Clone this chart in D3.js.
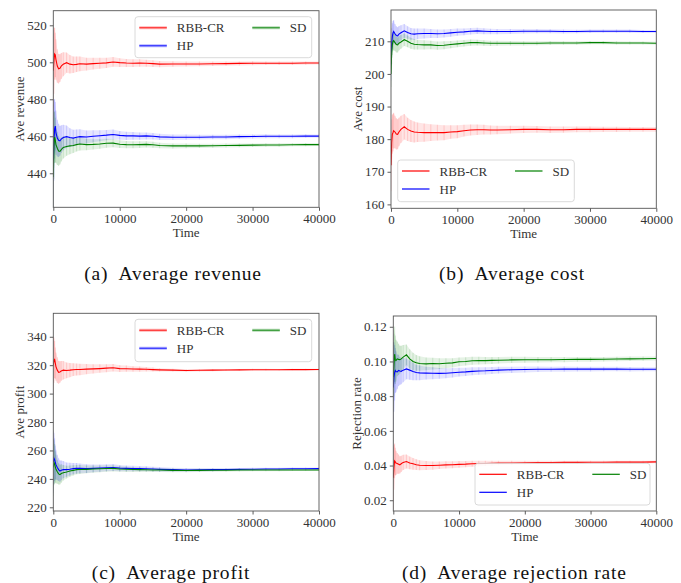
<!DOCTYPE html>
<html>
<head>
<meta charset="utf-8">
<script src="https://cdn.jsdelivr.net/npm/d3@7/dist/d3.min.js"></script>
<style>
  html, body { margin: 0; padding: 0; background: #fff; }
  svg { display: block; }
</style>
</head>
<body>
<svg id="chart" width="681" height="583" font-family="Liberation Serif, DejaVu Serif, serif"></svg>
<script>
// Sampling times shared by every series
const times = [0,100,200,300,400,600,800,1000,1200,1500,2000,2500,3000,3500,4000,5000,6000,7000,8000,9000,10000,11000,12000,13000,14000,15000,16000,18000,20000,22000,24000,26000,28000,30000,32000,34000,36000,38000,40000];

const seriesNames = ["RBB-CR", "HP", "SD"];
const xTicks = [0, 10000, 20000, 30000, 40000];

// (a) Average revenue
const revenueRBB = [495.5,501,504.5,504,501.5,498,496.5,496.8,498,499,499.8,499,498.7,498.9,499.2,499,499.3,499.5,499.7,500.2,499.8,499.6,499.5,499.6,499.5,499.3,499,499.1,499.1,499.1,499.2,499.3,499.4,499.5,499.5,499.5,499.5,499.6,499.6];
const revenueRBBErr = [20,18,14,12,11,9,8,7.5,7,6.5,5.5,5,4.5,4.2,4,3.5,3.2,3,2.8,2.6,2.4,2.2,2.1,2,1.9,1.8,1.7,1.5,1.4,1.3,1.2,1.15,1.1,1.05,1,0.95,0.9,0.9,0.85];
const revenueHP = [447,458,464,465.5,462,459,457.8,457.5,458.5,459.3,459.8,459.3,459,459.5,459.8,459.6,460,460.3,460.6,461,460.5,460.2,460.2,460.1,460.2,460,459.7,459.5,459.5,459.5,459.6,459.6,459.8,459.9,460,460,460,460.1,460.1];
const revenueHPErr = [30,22,16,13,12,10,9,8,7.5,7,6,5,4.5,4.2,4,3.5,3.2,3,2.8,2.6,2.4,2.2,2.1,2,1.9,1.8,1.7,1.5,1.4,1.3,1.25,1.2,1.15,1.1,1.05,1,1,0.95,0.9];
const revenueSD = [438,455,459.5,458,455.5,453.5,452,451.8,452.8,454,454.5,454.8,455,455.5,455.8,455.5,455.6,455.8,456.2,456.3,455.7,455.5,455.4,455.5,455.6,455.4,455,454.8,454.8,454.8,454.9,455,455.1,455.2,455.3,455.3,455.4,455.5,455.5];
const revenueSDErr = [25,18,14,12,10,9,8,7,6.5,6,5,4.5,4,3.7,3.5,3.1,2.8,2.6,2.4,2.2,2.1,2,1.9,1.8,1.7,1.6,1.5,1.35,1.25,1.15,1.1,1.05,1,0.95,0.9,0.9,0.85,0.85,0.8];
const revenueTicks = [440, 460, 480, 500, 520];

// (b) Average cost
const costRBB = [172,179,181.5,182,182.6,182.2,181.6,181.5,182.2,183,183.8,183,182.5,182.2,182.1,182,182,182,182,182.2,182.3,182.6,182.8,182.9,182.9,182.8,182.8,182.9,183,183,182.9,182.9,183,183,183,183,183,183,183];
const costRBBErr = [8,7,6,5.8,5.5,5,4.8,4.6,4.4,4.2,3.9,3.6,3.4,3.2,3,2.8,2.6,2.4,2.3,2.1,2,1.8,1.7,1.6,1.5,1.4,1.3,1.2,1.1,1,1,0.95,0.9,0.85,0.8,0.8,0.75,0.75,0.7];
const costHP = [203,209.5,211.5,212.5,213,212.3,211.8,211.7,212.2,212.6,213.2,212.7,212.3,212.2,212.3,212.4,212.4,212.3,212.4,212.6,212.8,212.9,213.1,213.2,213.1,213,213,213,213.1,213.1,213.1,213,213,213.1,213.1,213.1,213.1,213,213];
const costHPErr = [5,4.5,4,3.7,3.5,3,2.8,2.6,2.5,2.3,2.1,1.9,1.8,1.7,1.6,1.5,1.4,1.3,1.25,1.2,1.1,1.05,1,0.95,0.9,0.85,0.8,0.75,0.7,0.65,0.6,0.6,0.55,0.55,0.5,0.5,0.5,0.45,0.45];
const costSD = [200,206.5,209,210,210.2,209.6,209,208.9,209.4,209.8,210.5,210,209.4,209.1,209,208.9,208.9,208.7,208.8,209,209.2,209.4,209.6,209.6,209.5,209.4,209.4,209.4,209.4,209.4,209.5,209.5,209.5,209.6,209.6,209.5,209.5,209.5,209.4];
const costSDErr = [4,3.5,3.2,3,2.8,2.6,2.4,2.3,2.2,2.1,1.9,1.8,1.7,1.6,1.5,1.4,1.3,1.25,1.2,1.1,1.05,1,0.95,0.9,0.85,0.8,0.75,0.7,0.65,0.6,0.6,0.55,0.55,0.5,0.5,0.5,0.45,0.45,0.45];
const costTicks = [160, 170, 180, 190, 200, 210];

// (c) Average profit
const profitRBB = [320,323.5,324,321.5,319,316.5,315,315.2,316,316.5,316.3,316.5,316.8,317,317,317.2,317.4,317.6,317.9,318.2,317.6,317.5,317.3,317.2,317.1,316.9,316.7,316.5,316.3,316.4,316.5,316.6,316.7,316.8,316.8,316.8,316.9,316.9,317];
const profitRBBErr = [20,16,13,11,10,9,8,7.5,7,6.5,5.5,5,4.5,4.2,4,3.6,3.3,3,2.8,2.6,2.4,2.2,2,1.8,1.6,1.4,1.2,1,0.9,0.8,0.75,0.7,0.65,0.6,0.6,0.55,0.55,0.5,0.5];
const profitHP = [252,254.5,253.5,251.5,250,248,246.5,245.5,246,246.5,246.5,246.8,247.2,247.5,247.4,247.2,247.4,247.6,247.8,248,247.6,247.4,247.3,247.2,247.1,246.9,246.7,246.5,246.3,246.4,246.5,246.6,246.7,246.8,246.9,247,247.1,247.1,247.2];
const profitHPErr = [22,18,15,12,10.5,9,8,7.5,7,6,5,4.5,4,3.7,3.5,3.1,2.8,2.6,2.5,2.4,2.2,2.1,2,1.9,1.8,1.7,1.6,1.4,1.3,1.2,1.1,1.05,1,0.95,0.9,0.9,0.85,0.85,0.8];
const profitSD = [248,251.5,250.5,248.5,247,245,243.5,243,243.8,244.3,244.8,245.5,246,246.5,246.6,246.7,246.9,247.1,247.3,247.4,247,246.8,246.6,246.5,246.4,246.3,246.2,246,245.9,246,246.1,246.1,246.2,246.2,246.3,246.3,246.3,246.3,246.3];
const profitSDErr = [20,16,14,11,10,8.5,7.5,7,6.5,5.5,4.5,4,3.6,3.3,3.1,2.8,2.6,2.4,2.3,2.2,2,1.9,1.8,1.7,1.6,1.5,1.4,1.3,1.2,1.1,1,1,0.95,0.9,0.85,0.85,0.8,0.8,0.75];
const profitTicks = [220, 240, 260, 280, 300, 320, 340];

// (d) Average rejection rate
const rejectRBB = [0.033,0.039,0.0427,0.0422,0.0415,0.0412,0.0408,0.0404,0.041,0.0418,0.0423,0.0415,0.041,0.0405,0.0402,0.04,0.04,0.0402,0.0404,0.0405,0.0407,0.0408,0.041,0.0411,0.0412,0.0413,0.0414,0.0415,0.0416,0.0417,0.0417,0.0418,0.0418,0.0419,0.0419,0.042,0.042,0.042,0.0421];
const rejectRBBErr = [0.018,0.013,0.01,0.008,0.007,0.006,0.0055,0.005,0.0047,0.0044,0.004,0.0037,0.0034,0.0031,0.0029,0.0026,0.0024,0.0022,0.0021,0.002,0.0019,0.0018,0.0017,0.0016,0.0015,0.0014,0.0013,0.0012,0.0011,0.001,0.001,0.001,0.0009,0.0009,0.0009,0.0008,0.0008,0.0008,0.0008];
const rejectHP = [0.085,0.091,0.0935,0.0948,0.0942,0.094,0.0948,0.0945,0.0943,0.095,0.0957,0.095,0.0942,0.0936,0.0934,0.0933,0.0932,0.0931,0.0932,0.0935,0.0938,0.094,0.0943,0.0945,0.0946,0.0948,0.095,0.0952,0.0954,0.0955,0.0955,0.0956,0.0956,0.0956,0.0956,0.0956,0.0955,0.0955,0.0955];
const rejectHPErr = [0.026,0.02,0.016,0.013,0.012,0.01,0.009,0.008,0.0075,0.007,0.006,0.0055,0.005,0.0045,0.0042,0.0037,0.0034,0.0031,0.0029,0.0027,0.0025,0.0024,0.0023,0.0022,0.0021,0.002,0.0019,0.0018,0.0017,0.0016,0.0015,0.0015,0.0014,0.0014,0.0013,0.0013,0.0013,0.0012,0.0012];
const rejectSD = [0.091,0.098,0.1042,0.101,0.1005,0.1015,0.1012,0.101,0.1015,0.1025,0.1038,0.1015,0.1,0.0992,0.0988,0.0986,0.0988,0.0987,0.099,0.0992,0.0998,0.1,0.1004,0.1005,0.1005,0.1006,0.1007,0.1009,0.101,0.101,0.101,0.1011,0.1012,0.1012,0.1013,0.1014,0.1015,0.1016,0.1017];
const rejectSDErr = [0.02,0.018,0.016,0.014,0.012,0.01,0.009,0.008,0.0075,0.007,0.006,0.0055,0.005,0.0045,0.0042,0.0037,0.0034,0.0031,0.0029,0.0027,0.0025,0.0024,0.0023,0.0022,0.0021,0.002,0.0019,0.0018,0.0017,0.0016,0.0015,0.0015,0.0014,0.0014,0.0013,0.0013,0.0013,0.0012,0.0012];
const rejectTicks = [0.02, 0.04, 0.06, 0.08, 0.10, 0.12];

const colors = { "RBB-CR": "#ff0000", "HP": "#0000ff", "SD": "#008000" };
const FONT = "Liberation Serif, DejaVu Serif, serif";

const panels = [
  { id: "a", caption: "(a)  Average revenue", ylabel: "Ave revenue",
    box: { l: 53.3, r: 319, t: 10.7, b: 207.3 }, ydom: [421.6, 527.9], yticks: revenueTicks, fmt: d3.format("d"),
    series: [[revenueRBB, revenueRBBErr], [revenueHP, revenueHPErr], [revenueSD, revenueSDErr]],
    legend: { l: 135, t: 16.7, w: 176.7, h: 41, soft: true }, capX: 173, capY: 279.5, ylabX: 19 },
  { id: "b", caption: "(b)  Average cost", ylabel: "Ave cost",
    box: { l: 391, r: 656.3, t: 10, b: 208.3 }, ydom: [158.8, 219.6], yticks: costTicks, fmt: d3.format("d"),
    series: [[costRBB, costRBBErr], [costHP, costHPErr], [costSD, costSDErr]],
    legend: { l: 397.7, t: 160, w: 176.6, h: 41.7, soft: false }, capX: 512, capY: 279.5, ylabX: 357.3 },
  { id: "c", caption: "(c)  Average profit", ylabel: "Ave profit",
    box: { l: 53.3, r: 319, t: 313.3, b: 511 }, ydom: [217.4, 356.5], yticks: profitTicks, fmt: d3.format("d"),
    series: [[profitRBB, profitRBBErr], [profitHP, profitHPErr], [profitSD, profitSDErr]],
    legend: { l: 135, t: 319.3, w: 176.7, h: 42.4, soft: true }, capX: 171, capY: 578.5, ylabX: 19 },
  { id: "d", caption: "(d)  Average rejection rate", ylabel: "Rejection rate",
    box: { l: 393.3, r: 656.3, t: 316, b: 511 }, ydom: [0.0138, 0.1262], yticks: rejectTicks, fmt: d3.format(".2f"),
    series: [[rejectRBB, rejectRBBErr], [rejectHP, rejectHPErr], [rejectSD, rejectSDErr]],
    legend: { l: 475, t: 463.3, w: 175, h: 41.7, soft: false }, capX: 514.3, capY: 578.5, ylabX: 356.7 }
];

const svg = d3.select("#chart");
const defs = svg.append("defs");

panels.forEach(p => {
  const g = svg.append("g").attr("class", "panel-" + p.id);
  const x = d3.scaleLinear().domain([0, 40000]).range([p.box.l, p.box.r]);
  const y = d3.scaleLinear().domain(p.ydom).range([p.box.b, p.box.t]);

  defs.append("clipPath").attr("id", "clip-" + p.id)
    .append("rect").attr("x", p.box.l).attr("y", p.box.t)
    .attr("width", p.box.r - p.box.l).attr("height", p.box.b - p.box.t);

  const plot = g.append("g").attr("clip-path", `url(#clip-${p.id})`);

  p.series.forEach(([mean, err], si) => {
    const name = seriesNames[si];
    const c = colors[name];
    const pts = times.map((t, i) => ({ t, m: mean[i], e: err[i] }));

    // shaded error band
    plot.append("path").datum(pts)
      .attr("fill", c).attr("fill-opacity", 0.1)
      .attr("d", d3.area().x(d => x(d.t)).y0(d => y(d.m - d.e)).y1(d => y(d.m + d.e)));

    // vertical error bars
    plot.append("g").selectAll("line").data(pts).join("line")
      .attr("x1", d => x(d.t)).attr("x2", d => x(d.t))
      .attr("y1", d => y(d.m - d.e)).attr("y2", d => y(d.m + d.e))
      .attr("stroke", c).attr("stroke-opacity", 0.12).attr("stroke-width", 1.2);
  });
  // mean lines drawn above all bands
  p.series.forEach(([mean], si) => {
    const c = colors[seriesNames[si]];
    plot.append("path").datum(times.map((t, i) => ({ t, m: mean[i] })))
      .attr("fill", "none").attr("stroke", c).attr("stroke-width", 1.1)
      .attr("d", d3.line().x(d => x(d.t)).y(d => y(d.m)));
  });

  // axes
  const xAxis = d3.axisBottom(x).tickValues(xTicks).tickFormat(d3.format("d")).tickSize(3.5).tickPadding(3);
  const yAxis = d3.axisLeft(y).tickValues(p.yticks).tickFormat(p.fmt).tickSize(3.5).tickPadding(3);

  const gx = g.append("g").attr("transform", `translate(0,${p.box.b})`).call(xAxis);
  const gy = g.append("g").attr("transform", `translate(${p.box.l},0)`).call(yAxis);
  [gx, gy].forEach(ax => {
    ax.attr("font-family", FONT).attr("font-size", 13);
    ax.select(".domain").remove();
    ax.selectAll(".tick line").attr("stroke", "#333").attr("stroke-width", 0.8);
    ax.selectAll(".tick text").attr("fill", "#333");
  });

  // frame
  g.append("rect").attr("x", p.box.l).attr("y", p.box.t)
    .attr("width", p.box.r - p.box.l).attr("height", p.box.b - p.box.t)
    .attr("fill", "none").attr("stroke", "#555").attr("stroke-width", 0.9);

  // axis titles
  g.append("text").attr("x", (p.box.l + p.box.r) / 2).attr("y", p.box.b + 30)
    .attr("text-anchor", "middle").attr("font-size", 13).attr("fill", "#333").text("Time");
  g.append("text")
    .attr("transform", `translate(${p.ylabX},${(p.box.t + p.box.b) / 2}) rotate(-90)`)
    .attr("text-anchor", "middle").attr("dominant-baseline", "central")
    .attr("font-size", 13).attr("fill", "#333").text(p.ylabel);

  // legend (two columns: RBB-CR, HP | SD)
  const L = p.legend;
  const lg = g.append("g");
  lg.append("rect").attr("x", L.l).attr("y", L.t).attr("width", L.w).attr("height", L.h)
    .attr("rx", 3).attr("fill", "#fff").attr("fill-opacity", 0.85)
    .attr("stroke", "#d0d0d0").attr("stroke-width", 0.8);
  const slots = [
    { dx: 4.3, row: 0 }, { dx: 4.3, row: 1 }, { dx: 117.3, row: 0 }
  ];
  seriesNames.forEach((name, i) => {
    const s = slots[i];
    const ly = L.t + 11 + s.row * 18;
    const lx = L.l + s.dx;
    if (L.soft) {
      lg.append("line").attr("x1", lx).attr("x2", lx + 27.5).attr("y1", ly).attr("y2", ly)
        .attr("stroke", colors[name]).attr("stroke-opacity", 0.25).attr("stroke-width", 3.2);
      lg.append("line").attr("x1", lx).attr("x2", lx + 27.5).attr("y1", ly).attr("y2", ly)
        .attr("stroke", colors[name]).attr("stroke-opacity", 0.65).attr("stroke-width", 1.4);
    } else {
      lg.append("line").attr("x1", lx).attr("x2", lx + 27.5).attr("y1", ly).attr("y2", ly)
        .attr("stroke", colors[name]).attr("stroke-width", 1.2);
    }
    lg.append("text").attr("x", lx + 37.5).attr("y", ly).attr("dominant-baseline", "central")
      .attr("font-size", 13).attr("fill", "#333").text(name);
  });

  // caption
  svg.append("text").attr("x", p.capX).attr("y", p.capY).attr("text-anchor", "middle")
    .attr("font-size", 19.5).attr("letter-spacing", 0.8).attr("fill", "#111")
    .style("white-space", "pre").text(p.caption);
});
</script>
</body>
</html>
